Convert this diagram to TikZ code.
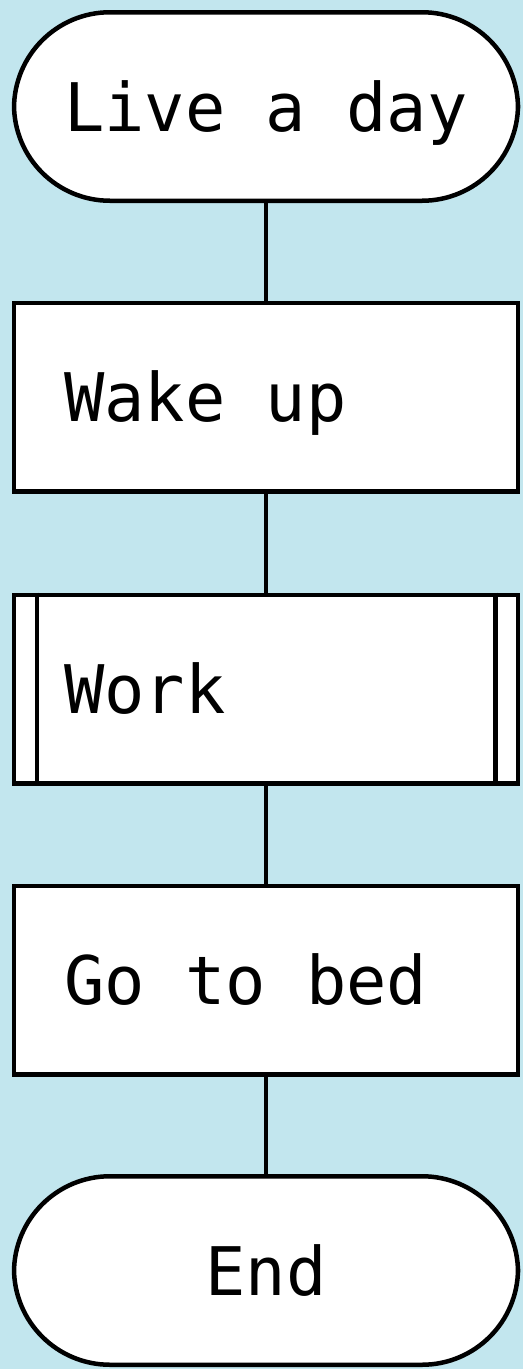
\documentclass[tikz,border=0pt]{standalone}
\usepackage{fontspec}
\setmonofont{DejaVu Sans Mono}
\usetikzlibrary{positioning}
\definecolor{sky}{HTML}{C2E6EE}
\definecolor{ink}{HTML}{000000}
\protected\def\monogap{\spaceskip=0.602em\relax}
\tikzset{link/.style={line width=4.5pt,draw=ink},
  box/.style={rectangle,draw=ink,line width=4.5pt,fill=white,minimum width=503.5pt,minimum height=188.5pt,
    inner xsep=50pt,text width=404pt,text height=49pt,text depth=0pt,align=left,
    font={\ttfamily\fontsize{67}{74}\selectfont},execute at begin node=\monogap},
  terminal/.style={box,rounded corners=96pt,align=center},
  subroutine/.style={box}}
\begin{document}
\begin{tikzpicture}[x=1pt,y=-1pt]
\fill[sky] (0,0) rectangle (523,1369);
\useasboundingbox (0,0) rectangle (523,1369);
\node[terminal] (live) at (266,106.5) {Live a day};
\node[box] (wake) at (266,397) {Wake up};
\node[subroutine] (work) at (266,689) {Work};
\node[box] (bed) at (266,980) {Go to bed};
\node[terminal] (end) at (266,1270.5) {End};
\draw[link] ([xshift=25pt]work.north west) -- ([xshift=25pt]work.south west);
\draw[link] ([xshift=-25pt]work.north east) -- ([xshift=-25pt]work.south east);
\draw[link] (live) -- (wake);
\draw[link] (wake) -- (work);
\draw[link] (work) -- (bed);
\draw[link] (bed) -- (end);
\end{tikzpicture}
\end{document}
